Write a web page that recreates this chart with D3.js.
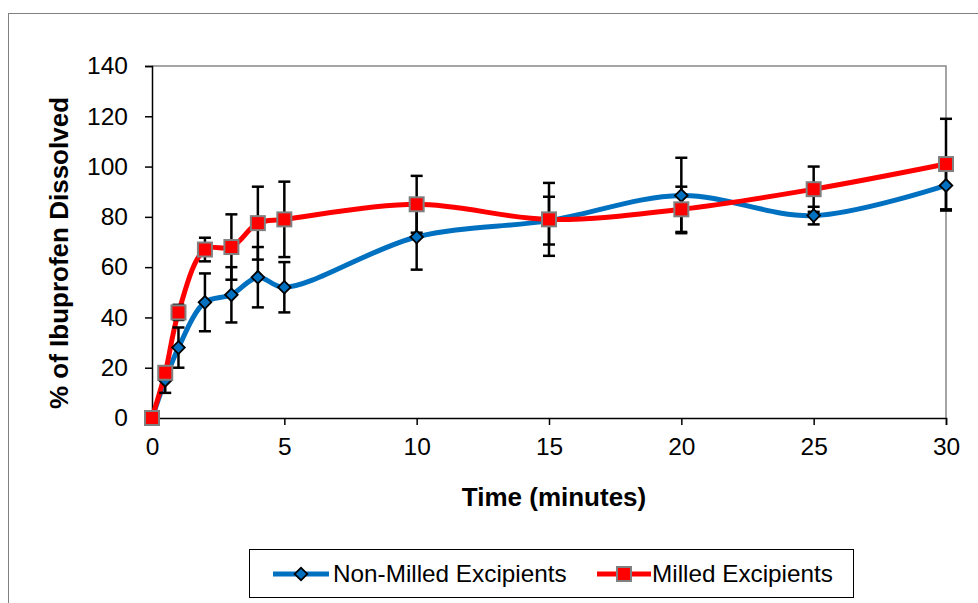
<!DOCTYPE html>
<html><head><meta charset="utf-8">
<script src="https://cdn.jsdelivr.net/npm/d3@7"></script>
<style>body{margin:0;background:#fff}svg{display:block}text{font-family:"Liberation Sans",Arial,sans-serif}</style>
</head><body>
<script>
const times = [0, 0.5, 1, 2, 3, 4, 5, 10, 15, 20, 25, 30];
const nonMilled = [0, 15, 28, 46, 49, 56, 52, 72, 78.5, 88.5, 80.5, 92.5];
const nonMilledErr = [0, 5, 8, 11.5, 11, 12, 10, 13, 9.5, 15, 3.5, 10];
const milled = [0, 18, 42, 67, 68, 77.5, 79, 85, 79, 83, 91, 101];
const milledErr = [0, 2, 3, 4.7, 13, 14.5, 15, 11.3, 14.5, 9, 9, 18];
const xTicks = [0, 5, 10, 15, 20, 25, 30];
const yTicks = [0, 20, 40, 60, 80, 100, 120, 140];
const seriesNames = ["Non-Milled Excipients", "Milled Excipients"];

const W = 978, H = 603;
const svg = d3.select("body").append("svg").attr("width", W).attr("height", H);
svg.append("rect").attr("x", 8.5).attr("y", 13.5).attr("width", 1000).attr("height", 1000)
  .attr("fill", "none").attr("stroke", "#808080").attr("stroke-width", 1);

const L = 152, R = 946, T = 66, B = 418;
const x = d3.scaleLinear().domain([0, 30]).range([L, R]);
const y = d3.scaleLinear().domain([0, 140]).range([B, T]);

svg.append("path").attr("d", `M${L},${T}H${R}V${B}`).attr("fill", "none").attr("stroke", "#888").attr("stroke-width", 1.5);

const yAxis = svg.append("g").attr("transform", `translate(${L},0)`)
  .call(d3.axisLeft(y).tickValues(yTicks).tickSize(7).tickPadding(17));
const xAxis = svg.append("g").attr("transform", `translate(0,${B})`)
  .call(d3.axisBottom(x).tickValues(xTicks).tickSize(7).tickPadding(13));
[yAxis, xAxis].forEach(g => {
  g.select(".domain").attr("stroke", "#000").attr("stroke-width", 1.5);
  g.selectAll(".tick line").attr("stroke", "#000").attr("stroke-width", 1.5);
  g.selectAll(".tick text").attr("font-size", 24.5).attr("fill", "#000")
    .attr("font-family", "Liberation Sans, Arial, sans-serif");
});

svg.append("text").attr("x", 554).attr("y", 506).attr("text-anchor", "middle")
  .attr("font-size", 26).attr("font-weight", "bold").text("Time (minutes)");
svg.append("text").attr("transform", "translate(68,253) rotate(-90)").attr("text-anchor", "middle")
  .attr("font-size", 26).attr("font-weight", "bold").text("% of Ibuprofen Dissolved");

const line = d3.line().x(d => x(d[0])).y(d => y(d[1])).curve(d3.curveCatmullRom.alpha(0.5));
const d1 = times.map((t, i) => [t, nonMilled[i], nonMilledErr[i]]);
const d2 = times.map((t, i) => [t, milled[i], milledErr[i]]);

svg.append("path").datum(d1).attr("d", line).attr("fill", "none").attr("stroke", "#0070C0").attr("stroke-width", 5);
svg.append("path").datum(d2).attr("d", line).attr("fill", "none").attr("stroke", "#FF0000").attr("stroke-width", 5);

function errBars(data) {
  const g = svg.append("g").attr("stroke", "#000").attr("stroke-width", 2.5);
  data.filter(d => d[2] > 0).forEach(d => {
    const cx = x(d[0]), y1 = y(d[1] + d[2]), y0 = y(d[1] - d[2]);
    g.append("line").attr("x1", cx).attr("x2", cx).attr("y1", y1).attr("y2", y0);
    g.append("line").attr("x1", cx - 6).attr("x2", cx + 6).attr("y1", y1).attr("y2", y1);
    g.append("line").attr("x1", cx - 6).attr("x2", cx + 6).attr("y1", y0).attr("y2", y0);
  });
}
errBars(d1);
errBars(d2);

const diamond = d3.symbol().type(d3.symbolSquare).size(80);
svg.append("g").selectAll("path").data(d1).join("path")
  .attr("d", diamond)
  .attr("transform", d => `translate(${x(d[0])},${y(d[1])}) rotate(45)`)
  .attr("fill", "#0070C0").attr("stroke", "#000").attr("stroke-width", 1.8);
svg.append("g").selectAll("rect").data(d2).join("rect")
  .attr("x", d => x(d[0]) - 7).attr("y", d => y(d[1]) - 7).attr("width", 14).attr("height", 14)
  .attr("fill", "#FF0000").attr("stroke", "#808080").attr("stroke-width", 2);

// legend
const lg = svg.append("g");
lg.append("rect").attr("x", 249.5).attr("y", 549.5).attr("width", 604).attr("height", 48)
  .attr("fill", "#fff").attr("stroke", "#000").attr("stroke-width", 1);
const ly = 574;
lg.append("line").attr("x1", 273).attr("x2", 329).attr("y1", ly).attr("y2", ly).attr("stroke", "#0070C0").attr("stroke-width", 5);
lg.append("path").attr("d", diamond).attr("transform", `translate(301,${ly}) rotate(45)`)
  .attr("fill", "#0070C0").attr("stroke", "#000").attr("stroke-width", 1.8);
lg.append("text").attr("x", 333).attr("y", ly + 8).attr("font-size", 24.3).text(seriesNames[0]);
lg.append("line").attr("x1", 597).attr("x2", 651).attr("y1", ly).attr("y2", ly).attr("stroke", "#FF0000").attr("stroke-width", 5);
lg.append("rect").attr("x", 624 - 7).attr("y", ly - 7).attr("width", 14).attr("height", 14)
  .attr("fill", "#FF0000").attr("stroke", "#808080").attr("stroke-width", 2);
lg.append("text").attr("x", 652).attr("y", ly + 8).attr("font-size", 24.3).text(seriesNames[1]);
</script>
</body></html>
